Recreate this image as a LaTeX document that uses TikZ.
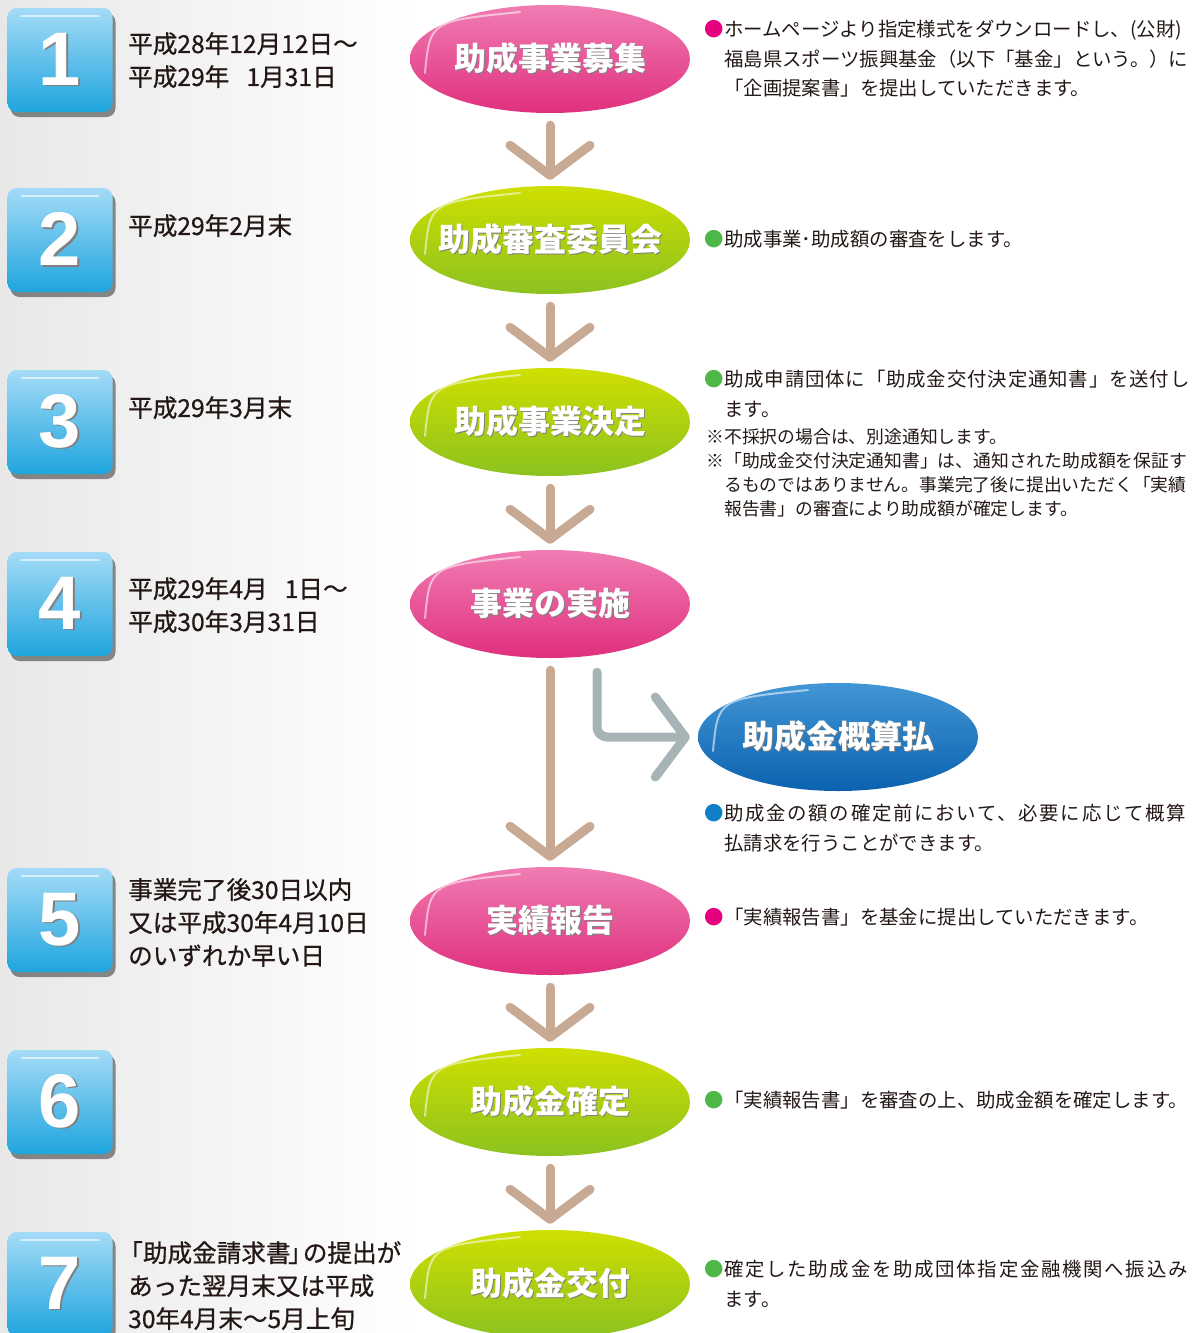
\documentclass[tikz,border=0pt]{standalone}
\usepackage{fontspec}
\setmainfont{Noto Sans CJK JP}
\newfontfamily\numfont{Liberation Sans}
\newfontfamily\datefont[FakeBold=0.7]{Noto Sans CJK JP}
\usetikzlibrary{shapes.geometric,shadows,arrows.meta,calc}

\definecolor{ink}{HTML}{231815}
\definecolor{bgray}{HTML}{E8E8E8}
\definecolor{boxtop}{HTML}{A4DBF7}
\definecolor{boxbot}{HTML}{1FA5DE}
\definecolor{pinktop}{HTML}{F07CB2}
\definecolor{pinkbot}{HTML}{E0307E}
\definecolor{greentop}{HTML}{CFDF00}
\definecolor{greenbot}{HTML}{8CC220}
\definecolor{bluetop}{HTML}{4296D5}
\definecolor{bluebot}{HTML}{0B62AF}
\definecolor{pinkb}{HTML}{E4007F}
\definecolor{greenb}{HTML}{4DB848}
\definecolor{blueb}{HTML}{0F80C8}
\definecolor{brownarr}{HTML}{C7A994}
\definecolor{grayarr}{HTML}{A6B4B6}

% white text with a soft dark copy behind it, no width of its own
\newcommand{\shtext}[1]{\makebox[0pt]{\rlap{\hspace{1.5pt}\raisebox{-1.5pt}{\color{black!50}#1}}#1}}
% a line spread out to the full column
\newcommand{\wideline}[2]{{\addfontfeature{LetterSpace=#1}#2}}

\begin{document}
\begin{tikzpicture}[
	x=1pt, y=-1pt,
	numbox/.style={
		rounded corners=9pt,
		minimum width=105pt, minimum height=104pt,
		top color=boxtop, bottom color=boxbot,
		drop shadow={shadow xshift=3pt, shadow yshift=-5pt, fill=black!65, opacity=.7},
		text=white,
		font=\numfont\bfseries\fontsize{76}{76}\selectfont
	},
	pill/.style={
		ellipse, inner sep=0pt,
		minimum width=280pt, minimum height=108pt,
		text=white,
		font=\bfseries\fontsize{32}{32}\selectfont
	},
	pinkpill/.style={pill, top color=pinktop, bottom color=pinkbot},
	greenpill/.style={pill, top color=greentop, bottom color=greenbot},
	bluepill/.style={pill, top color=bluetop, bottom color=bluebot},
	date/.style={
		anchor=north west, inner sep=0pt, align=left, text=ink,
		font=\datefont\fontsize{24.6}{33}\selectfont
	},
	note/.style={
		anchor=north west, inner sep=0pt, align=left, text=ink,
		font=\fontsize{19.4}{29.5}\selectfont
	},
	small/.style={note, font=\fontsize{17.8}{24}\selectfont},
	flow/.style={
		draw=brownarr, line width=9pt, line cap=round, line join=round,
		shorten <=12pt, shorten >=6pt,
		-{Straight Barb[length=30pt 0 0, width=80pt 0 0, round]}
	},
	side/.style={flow, draw=grayarr, rounded corners=10pt}
]

\useasboundingbox (0,0) rectangle (1200,1333);
\fill[left color=bgray, right color=white] (0,0) rectangle (420,1333);

% number boxes
\foreach \i/\y in {1/60,2/240,3/422,4/604,5/920,6/1102,7/1284}
	\node[numbox] (N\i) at (60,\y) {\shtext{\i}};
\foreach \i in {1,...,7}
	\draw[white, opacity=.6, line width=1.5pt, line cap=round]
		($(N\i.north west)+(14,8)$) -- ($(N\i.north east)+(-14,8)$);

% dates
\node[date] (D1) at (128,32) {平成28年12月12日～\\平成29年\hspace{0.7em}1月31日};
\node[date] (D2) at (128,214) {平成29年2月末};
\node[date] (D3) at (128,396) {平成29年3月末};
\node[date] (D4) at (128,577) {平成29年4月\hspace{0.7em}1日～\\平成30年3月31日};
\node[date] (D5) at (128,878) {事業完了後30日以内\\又は平成30年4月10日\\のいずれか早い日};
\node[date] (D7) at (128,1241) {\hspace{-.4em}「助成金請求書\hspace{-.1em}」\hspace{-.4em}の提出が\\あった翌月末又は平成\\30年4月末～5月上旬};

% flow
\node[pinkpill] (E1) at (550,59) {\shtext{助成事業募集}};
\node[greenpill] (E2) at (550,240) {\shtext{助成審査委員会}};
\node[greenpill] (E3) at (550,422) {\shtext{助成事業決定}};
\node[pinkpill] (E4) at (550,604) {\shtext{事業の実施}};
\node[bluepill] (EB) at (838,737) {\shtext{助成金概算払}};
\node[pinkpill] (E5) at (550,921) {\shtext{実績報告}};
\node[greenpill] (E6) at (550,1102) {\shtext{助成金確定}};
\node[greenpill] (E7) at (550,1284) {\shtext{助成金交付}};

\foreach \e in {E1,E2,E3,E4,EB,E5,E6,E7}
	\draw[white, opacity=.55, line width=2pt, line cap=round]
		($(\e.center)+(-125,14)$) .. controls ($(\e.center)+(-120,-38)$) .. ($(\e.center)+(-30,-47)$);

\foreach \a/\b in {E1/E2,E2/E3,E3/E4,E4/E5,E5/E6,E6/E7}
	\draw[flow] (\a.south) -- (\b.north);
\draw[side, shorten <=0pt, shorten >=8pt] ([xshift=47pt,yshift=-14pt]E4.south) |- (EB.west);

% comments
\node[note] (C1) at (724,20) {\llap{\textcolor{pinkb}{●}}ホームページより指定様式をダウンロードし、(公財)\\福島県スポーツ振興基金（以下「基金」という。）に\\「企画提案書」を提出していただきます。};
\node[note] (C2) at (724,230) {\llap{\textcolor{greenb}{●}}助成事業･助成額の審査をします。};
\node[note] (C3) at (724,370) {\llap{\textcolor{greenb}{●}}\wideline{4.5}{助成申請団体に「助成金交付決定通知書」を送付し}\\ます。};
\node[small] (C3n) at (724,428) {\llap{※}不採択の場合は、別途通知します。\\\llap{※}「助成金交付決定通知書」は、通知された助成額を保証す\\るものではありません。事業完了後に提出いただく「実績\\報告書」の審査により助成額が確定します。};
\node[note] (CB) at (724,804) {\llap{\textcolor{blueb}{●}}\wideline{9}{助成金の額の確定前において、必要に応じて概算}\\払請求を行うことができます。};
\node[note] (C5) at (724,908) {\llap{\textcolor{pinkb}{●}}「実績報告書」を基金に提出していただきます。};
\node[note] (C6) at (724,1091) {\llap{\textcolor{greenb}{●}}「実績報告書」を審査の上、助成金額を確定します。};
\node[note] (C7) at (724,1260) {\llap{\textcolor{greenb}{●}}\wideline{9}{確定した助成金を助成団体指定金融機関へ振込み}\\ます。};

\end{tikzpicture}
\end{document}
